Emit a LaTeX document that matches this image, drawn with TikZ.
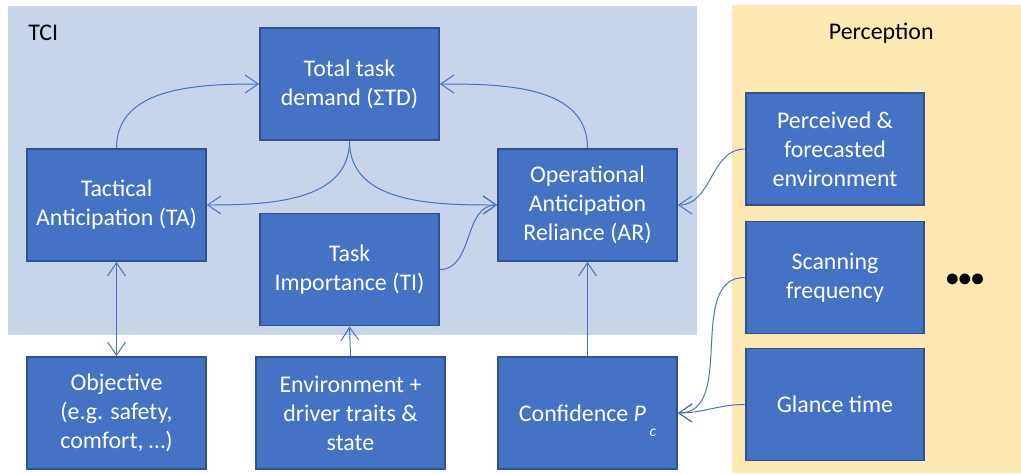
\documentclass[tikz,border=0pt]{standalone}
\usepackage{fontspec}
\setmainfont{Carlito}
\usetikzlibrary{arrows.meta}
\definecolor{boxblue}{RGB}{68,114,196}
\definecolor{boxedge}{RGB}{47,82,143}
\definecolor{tcibg}{RGB}{199,212,234}
\definecolor{percbg}{RGB}{254,233,178}

\begin{document}
\begin{tikzpicture}[
    block/.style={draw=boxedge, line width=1.4pt, fill=boxblue, text=white, minimum width=4.47cm, minimum height=2.80cm, inner sep=0pt, align=center, font=\fontsize{17}{20.6}\selectfont},
    link/.style={boxblue, line width=0.7pt, -{Straight Barb[length=3.3mm,width=4.5mm]}},
    bothlink/.style={boxblue, line width=0.7pt, {Straight Barb[length=3.3mm,width=4.5mm]}-{Straight Barb[length=3.3mm,width=4.5mm]}},
    areatitle/.style={inner sep=0pt, font=\fontsize{17}{20.6}\selectfont}
]

    \useasboundingbox (0,0) rectangle (25.525,-11.825);

    % background areas
    \fill[tcibg] (0.2,-0.15) rectangle (17.425,-8.375);
    \fill[percbg] (18.3,-0.125) rectangle (25.525,-11.825);
    \node[areatitle, anchor=west] (tci) at (0.7,-0.83) {TCI};
    \node[areatitle] (perc) at (22.03,-0.83) {Perception};

    % TCI blocks
    \node[block] (ttd) at (8.7375,-2.1) {Total task\\demand (ΣTD)};
    \node[block] (ta) at (2.9125,-5.125) {Tactical\\Anticipation (TA)};
    \node[block] (ti) at (8.7375,-6.7375) {Task\\Importance (TI)};
    \node[block] (ar) at (14.6875,-5.125) {Operational\\Anticipation\\Reliance (AR)};

    % inputs
    \node[block] (obj) at (2.9125,-10.325) {Objective\\(e.g. safety,\\comfort, …)};
    \node[block, minimum width=4.72cm] (env) at (8.7625,-10.325) {Environment +\\driver traits \&\\state};
    \node[block] (conf) at (14.6875,-10.325) {Confidence \textit{P}\smash{\raisebox{-1.3ex}{\hspace{0.15em}\fontsize{11}{11}\selectfont\textit{c}}}};

    % perception blocks
    \node[block] (pfe) at (20.875,-3.725) {Perceived \&\\forecasted\\environment};
    \node[block] (scan) at (20.875,-6.9375) {Scanning\\frequency};
    \node[block] (glance) at (20.875,-10.1125) {Glance time};
    \node[inner sep=0pt, font=\fontsize{18}{18}\bfseries\selectfont] (more) at (24.125,-7.0) {•••};

    \draw[link] (ta.north) to[out=90, in=180] (ttd.west);
    \draw[link] (ar.north) to[out=90, in=0] (ttd.east);
    \draw[link] (ttd.south) to[out=-90, in=0] (ta.east);
    \draw[link] (ttd.south) to[out=-90, in=180] (ar.west);
    \draw[link] (ti.east) to[out=0, in=180] (ar.west);
    \draw[link] (pfe.west) to[out=180, in=0] (ar.east);
    \draw[link] (scan.west) to[out=180, in=0] (conf.east);
    \draw[link] (glance.west) to[out=180, in=0] (conf.east);

    \draw[bothlink] (ta.south) -- (obj.north);
    \draw[link] (env.north) -- (ti.south);
    \draw[link] (conf.north) -- (ar.south);

\end{tikzpicture}
\end{document}
